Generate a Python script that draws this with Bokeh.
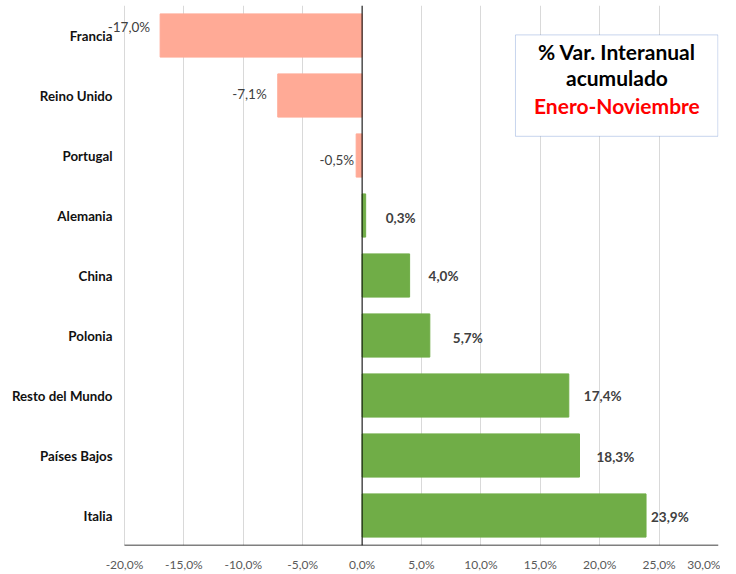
from bokeh.plotting import figure
from bokeh.models import ColumnDataSource, FixedTicker, Span, BoxAnnotation, Label
from bokeh.core.properties import value
from bokeh.embed import file_html
from bokeh.resources import INLINE

# ---- data ----
categories = ["Francia", "Reino Unido", "Portugal", "Alemania", "China",
              "Polonia", "Resto del Mundo", "Países Bajos", "Italia"]
values = [-17.0, -7.1, -0.5, 0.3, 4.0, 5.7, 17.4, 18.3, 23.9]
x_ticks = [-20, -15, -10, -5, 0, 5, 10, 15, 20, 25, 30]
x_tick_labels = ["-20,0%", "-15,0%", "-10,0%", "-5,0%", "0,0%", "5,0%",
                 "10,0%", "15,0%", "20,0%", "25,0%", "30,0%"]
title_lines = ["% Var. Interanual", "acumulado", "Enero-Noviembre"]

# label nudges in px (style only; dy positive = down)
label_dx = [-10, -11, -2, 20, 19, 23, 15, 17, 5]
label_dy = [-9, -2, 4, 2, 0, 2, 0, 1, 1]

FONT = "Lato"
NEG_COLOR = "#FFAA96"
POS_COLOR = "#70AD47"

n = len(categories)
ys = [n - 0.5 - i for i in range(n)]
colors = [NEG_COLOR if v < 0 else POS_COLOR for v in values]
labels = [(f"{v:.1f}%").replace(".", ",") for v in values]

src = ColumnDataSource(dict(y=ys, v=values, color=colors, lab=labels,
                            dx=label_dx, dy=label_dy,
                            cat=categories, x0=[x_ticks[0]] * n))
neg_idx = [i for i, v in enumerate(values) if v < 0]
pos_idx = [i for i, v in enumerate(values) if v >= 0]
neg_src = ColumnDataSource({k: [src.data[k][i] for i in neg_idx] for k in src.data})
pos_src = ColumnDataSource({k: [src.data[k][i] for i in pos_idx] for k in src.data})

# frame widened to the left so that category names and the Francia label
# (which sit left of the -20% gridline) are drawn inside the canvas
PX_PER_UNIT = 594 / (x_ticks[-1] - x_ticks[0])
x_start = x_ticks[0] - 122 / PX_PER_UNIT

p = figure(width=720, height=574, x_range=(x_start, x_ticks[-1]), y_range=(0, n),
           output_backend="svg", toolbar_location=None, y_axis_location=None,
           min_border_left=2, min_border_right=2, min_border_top=5,
           min_border_bottom=26)
p.outline_line_color = None
p.background_fill_color = "white"

p.xgrid.grid_line_color = "#d9d9d9"
p.xgrid.ticker = FixedTicker(ticks=x_ticks)
p.ygrid.grid_line_color = None

p.hbar(y="y", right="v", left=0, height=0.72, color="color", source=src)

zero = Span(location=0, dimension="height", line_color="black", line_width=1)
p.add_layout(zero)

# baseline of the value axis (from first to last tick)
p.segment(x0=[x_ticks[0]], x1=[x_ticks[-1]], y0=[0], y1=[0],
          line_color="black", line_width=1.5)

# category names
p.text(x="x0", y="y", text="cat", source=src, x_offset=-12,
       text_align="right", text_baseline="middle", text_font=value(FONT),
       text_font_size="13.3px", text_font_style="bold", text_color="#111111")

# value labels
p.text(x="v", y="y", text="lab", source=pos_src, x_offset="dx", y_offset="dy",
       text_align="left", text_baseline="middle", text_font=value(FONT),
       text_font_size="13.5px", text_font_style="bold", text_color="#404040")
p.text(x="v", y="y", text="lab", source=neg_src, x_offset="dx", y_offset="dy",
       text_align="right", text_baseline="middle", text_font=value(FONT),
       text_font_size="13.5px", text_font_style="normal", text_color="#404040")

# x axis
xa = p.xaxis[0]
xa.ticker = FixedTicker(ticks=x_ticks)
xa.major_label_overrides = {t: l for t, l in zip(x_ticks, x_tick_labels)}
xa.axis_line_color = None
xa.major_tick_line_color = None
xa.minor_tick_line_color = None
xa.major_tick_out = 0
xa.major_tick_in = 0
xa.minor_tick_out = 0
xa.minor_tick_in = 0
xa.major_label_text_font = FONT
xa.major_label_text_font_size = "12px"
xa.major_label_text_color = "#595959"
xa.major_label_standoff = 11

# title box
box = BoxAnnotation(left=12.91, right=29.95, top=8.51, bottom=6.82,
                    fill_color="white", fill_alpha=1.0,
                    line_color="#4472C4", line_width=1)
p.add_layout(box)
line_y = [8.226, 7.795, 7.33]
line_col = ["black", "black", "#FF0000"]
for t, yy, c in zip(title_lines, line_y, line_col):
    p.add_layout(Label(x=21.45, y=yy, text=t, text_align="center",
                       text_baseline="middle", text_font=FONT,
                       text_font_size="21px", text_font_style="bold",
                       text_color=c))

open("out.html", "w").write(file_html(p, INLINE))
